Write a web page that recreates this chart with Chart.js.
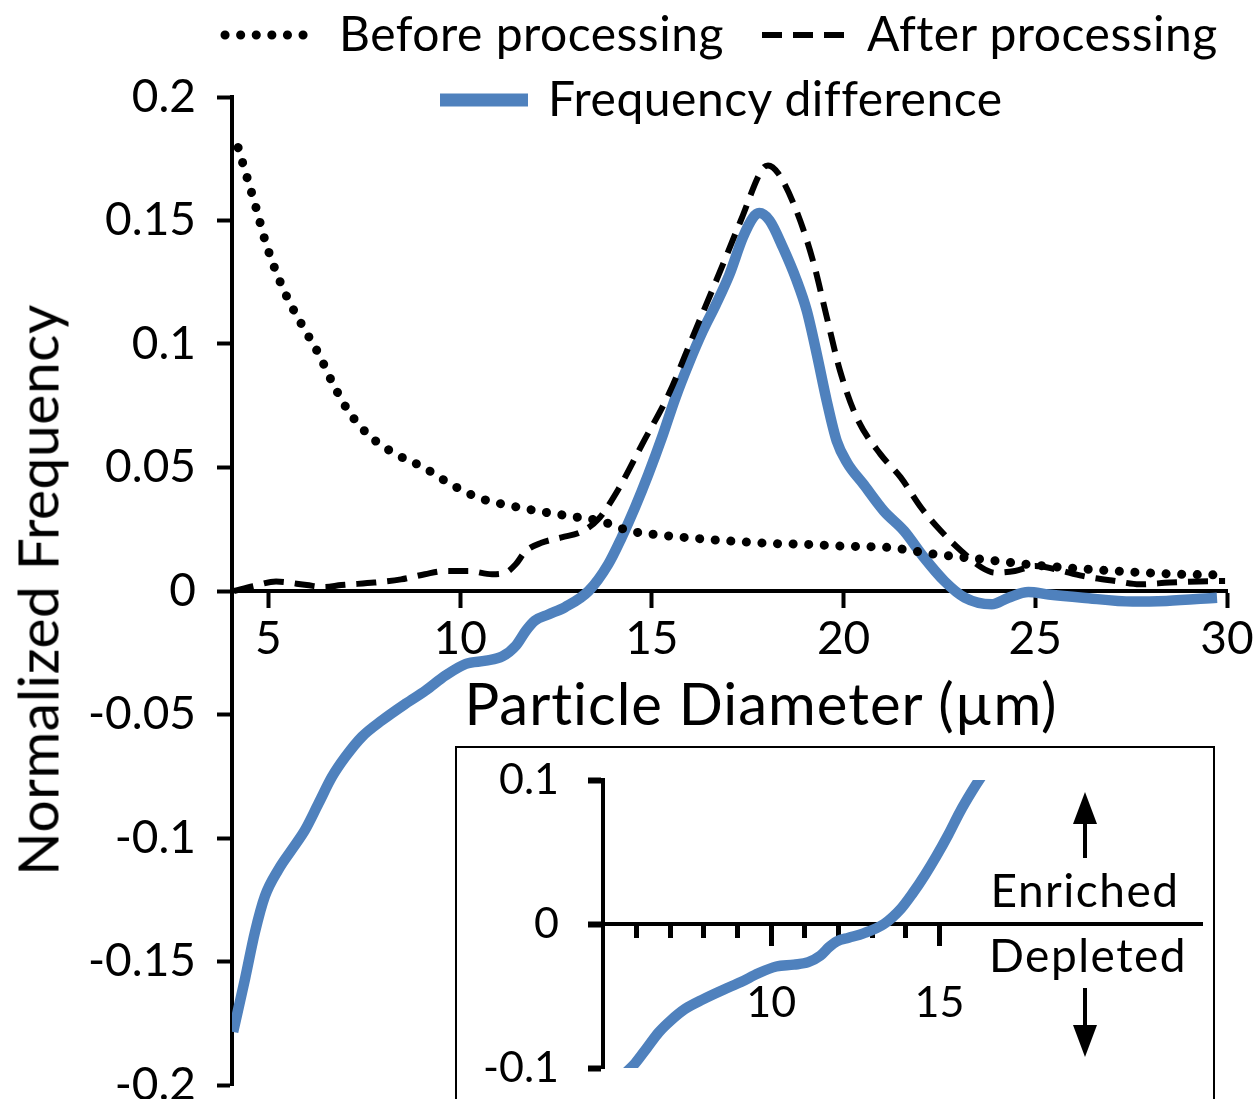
<!DOCTYPE html>
<html>
<head>
<meta charset="utf-8">
<title>Particle size distribution</title>
<script src="https://cdn.jsdelivr.net/npm/chart.js@4.4.1/dist/chart.umd.min.js"></script>
<style>
  html, body { margin: 0; padding: 0; background: #fff; }
  body { position: relative; width: 1257px; height: 1099px; overflow: hidden; font-family: Lato, "Liberation Sans", sans-serif; color: #000; }
  #main { position: absolute; left: 0; top: 0; }
  .txt { position: absolute; white-space: nowrap; line-height: 1; }
  #legend .txt { font-size: 48px; letter-spacing: 0.5px; }
  #ytitle { left: 37px; top: 590px; font-size: 57px; letter-spacing: 0.5px; transform: translate(-50%, -50%) rotate(-90deg); }
  #xtitle { left: 761px; top: 674px; font-size: 58px; letter-spacing: 1px; transform: translateX(-50%); }
  #inset { position: absolute; left: 455px; top: 746px; width: 756px; height: 400px; border: 2px solid #000; background: #fff; }
  #inset canvas, #inset svg { position: absolute; left: 0; top: 0; }
  #inset .txt { font-size: 46px; letter-spacing: 1.5px; transform: translateX(-50%); }
</style>
</head>
<body>
<canvas id="main" width="1257" height="1099"></canvas>
<div id="legend"></div>
<div class="txt" id="ytitle">Normalized Frequency</div>
<div class="txt" id="xtitle">Particle Diameter (µm)</div>
<div id="inset">
  <canvas id="insetChart" width="756" height="352"></canvas>
  <svg width="756" height="352">
    <line x1="628" y1="110" x2="628" y2="70" stroke="#000" stroke-width="4"/>
    <polygon points="628,44 616,76 640,76" fill="#000"/>
    <line x1="628" y1="240" x2="628" y2="282" stroke="#000" stroke-width="4"/>
    <polygon points="628,309 616,277 640,277" fill="#000"/>
  </svg>
  <div class="txt" style="left:628px; top:119px;">Enriched</div>
  <div class="txt" style="left:631px; top:184px;">Depleted</div>
</div>
<script>
(() => {
  'use strict'

  // particle diameter (µm) / normalized frequency
  const beforeX = [4.21, 4.45, 4.68, 4.91, 5.18, 5.5, 5.9, 6.32, 6.68, 7.08, 7.61, 8.29, 9.05, 9.76, 10.51,
    11.32, 12.17, 13.0, 13.64, 14.43, 15.26, 16.54, 17.37, 18.2, 19.04, 19.91, 21.18, 22.33, 23.2, 24.1,
    24.97, 26.2, 27.4, 28.73, 29.96];
  const beforeY = [0.1795, 0.167, 0.155, 0.142, 0.130, 0.1185, 0.107, 0.0957, 0.084, 0.073, 0.0632, 0.0557,
    0.050, 0.0432, 0.0376, 0.0345, 0.032, 0.030, 0.0284, 0.0243, 0.0226, 0.0208, 0.0199, 0.0192, 0.0189,
    0.0182, 0.0176, 0.015, 0.0135, 0.012, 0.0105, 0.009, 0.0078, 0.0068, 0.0065];

  const afterX = [4.1, 4.6, 5.2, 6.0, 6.45, 6.9, 7.76, 8.46, 9.08, 9.6, 10.22, 10.83, 11.18, 11.45, 11.7,
    12.12, 12.65, 13.17, 13.6, 14.12, 14.75, 15.45, 16.06, 16.68, 17.32, 17.89, 18.03, 18.3, 18.77, 19.2,
    19.56, 19.91, 20.35, 20.96, 21.49, 22.02, 22.54, 23.07, 23.6, 23.95, 24.47, 25.0, 25.53, 26.23, 27.1,
    27.72, 28.5, 29.56, 29.95];
  const afterY = [0, 0.002, 0.0038, 0.0024, 0.0016, 0.0024, 0.0034, 0.0047, 0.0068, 0.0081, 0.0081, 0.0068,
    0.0074, 0.0108, 0.016, 0.0195, 0.0217, 0.024, 0.029, 0.041, 0.0595, 0.080, 0.1027, 0.1257, 0.150, 0.171,
    0.1723, 0.169, 0.154, 0.1338, 0.111, 0.089, 0.070, 0.0554, 0.046, 0.0338, 0.0243, 0.0162, 0.0095,
    0.0074, 0.0081, 0.0101, 0.0088, 0.0061, 0.004, 0.0027, 0.0034, 0.004, 0.004];

  const diffX = [4.08, 4.39, 4.65, 4.91, 5.26, 5.61, 5.96, 6.31, 6.66, 7.01, 7.44, 7.97, 8.58, 9.1, 9.62,
    10.15, 10.67, 11.1, 11.46, 11.72, 11.95, 12.3, 12.74, 13.35, 13.86, 14.21, 14.56, 14.91, 15.26, 15.61,
    15.96, 16.32, 16.67, 17.02, 17.37, 17.63, 17.8, 18.07, 18.42, 18.77, 19.04, 19.3, 19.56, 19.82, 20.09,
    20.53, 21.05, 21.58, 22.1, 22.63, 23.16, 23.86, 24.3, 24.82, 25.35, 26.23, 27.54, 28.42, 29.74];
  const diffY = [-0.1785, -0.157, -0.138, -0.1235, -0.1128, -0.1047, -0.0966, -0.0859, -0.0752, -0.0671,
    -0.059, -0.0523, -0.0456, -0.0403, -0.0342, -0.0295, -0.0282, -0.0265, -0.022, -0.016, -0.012, -0.0095,
    -0.0065, 0, 0.0108, 0.0216, 0.0338, 0.0473, 0.062, 0.078, 0.092, 0.105, 0.116, 0.128, 0.143, 0.151,
    0.153, 0.150, 0.139, 0.126, 0.1135, 0.096, 0.077, 0.0608, 0.052, 0.043, 0.0324, 0.0243, 0.0135, 0.004,
    -0.0027, -0.0054, -0.0027, -0.0004, -0.0014, -0.0027, -0.0043, -0.004, -0.0027];

  const seriesNames = ['Before processing', 'After processing', 'Frequency difference'];

  const xTicks = [5, 10, 15, 20, 25, 30];
  const yTicks = [-0.2, -0.15, -0.1, -0.05, 0, 0.05, 0.1, 0.15, 0.2];
  const yTickLabels = ['-0.2', '-0.15', '-0.1', '-0.05', '0', '0.05', '0.1', '0.15', '0.2'];

  // the inset only carries the difference curve up to where it leaves the top
  const insetLastX = 16.67;
  const insetMinorTicks = [6, 7, 8, 9, 11, 12, 13, 14];
  const insetMajorTicks = [10, 15];
  const insetYTicks = [-0.1, 0, 0.1];
  const insetYTickLabels = ['-0.1', '0', '0.1'];

  const BLUE = '#4F81BD';

  function points(xs, ys) {
    return xs.map((x, i) => ({ x: x, y: ys[i] }));
  }

  function fixedTicks(values) {
    return function(scale) {
      scale.ticks = values.map(v => ({ value: v }));
    };
  }

  // keep the label overhang from shrinking the plot area
  function noPadding(size) {
    return function(scale) {
      if (scale.isHorizontal()) {
        scale.height = 0;
      } else {
        scale.width = size;
      }
      scale.paddingTop = 0;
      scale.paddingBottom = 0;
      scale.paddingLeft = 0;
      scale.paddingRight = 0;
    };
  }

  const font = (size) => ({ family: 'Lato', size: size, lineHeight: 1.2 });

  const lineStyles = [
    { borderColor: '#000', borderWidth: 9, borderDash: [0.1, 15.5], borderCapStyle: 'round' },
    { borderColor: '#000', borderWidth: 6, borderDash: [20, 11], borderCapStyle: 'butt' },
    { borderColor: BLUE, borderWidth: 10.5, borderDash: [], borderCapStyle: 'butt' }
  ];

  const seriesData = [points(beforeX, beforeY), points(afterX, afterY), points(diffX, diffY)];

  const mainChart = new Chart(document.getElementById('main'), {
    type: 'line',
    data: {
      datasets: seriesData.map((d, i) => Object.assign({
        label: seriesNames[i],
        data: d,
        pointRadius: 0,
        fill: false,
        cubicInterpolationMode: 'monotone'
      }, lineStyles[i]))
    },
    options: {
      responsive: false,
      animation: false,
      devicePixelRatio: 1,
      layout: { padding: { left: 0, right: 30, top: 97, bottom: 14 } },
      plugins: { legend: { display: false }, tooltip: { enabled: false } },
      scales: {
        x: {
          type: 'linear',
          min: 4.05,
          max: 30,
          position: { y: 0 },
          afterFit: noPadding(0),
          afterBuildTicks: fixedTicks(xTicks),
          grid: { drawOnChartArea: false, drawTicks: true, tickLength: 15, tickWidth: 4, tickColor: '#000' },
          border: { display: true, color: '#000', width: 4 },
          ticks: { font: font(46), color: '#000', padding: 6, maxRotation: 0, autoSkip: false }
        },
        y: {
          type: 'linear',
          min: -0.2,
          max: 0.2,
          afterFit: noPadding(232),
          afterBuildTicks: fixedTicks(yTicks),
          grid: { drawOnChartArea: false, drawTicks: true, tickLength: 15, tickWidth: 4, tickColor: '#000' },
          border: { display: true, color: '#000', width: 4 },
          ticks: {
            font: font(46),
            color: '#000',
            padding: 21,
            autoSkip: false,
            callback: function(value, index) {
              return yTickLabels[index];
            }
          }
        }
      }
    }
  });

  // legend drawn in html from the chart's own datasets
  const legendSpots = [
    { line: 225, text: 339, y: 35, top: 9 },
    { line: 762, text: 867, y: 35, top: 9 },
    { line: 440, text: 548, y: 100, top: 74 }
  ];
  const legend = document.getElementById('legend');
  mainChart.data.datasets.forEach((ds, i) => {
    const spot = legendSpots[i];
    const svgNS = 'http://www.w3.org/2000/svg';
    const svg = document.createElementNS(svgNS, 'svg');
    svg.setAttribute('width', 100);
    svg.setAttribute('height', 20);
    svg.style.position = 'absolute';
    svg.style.left = (spot.line - 6) + 'px';
    svg.style.top = (spot.y - 10) + 'px';
    const ln = document.createElementNS(svgNS, 'line');
    ln.setAttribute('x1', 6);
    ln.setAttribute('x2', 94);
    ln.setAttribute('y1', 10);
    ln.setAttribute('y2', 10);
    ln.setAttribute('stroke', ds.borderColor);
    ln.setAttribute('stroke-width', i === 2 ? 13 : ds.borderWidth);
    ln.setAttribute('stroke-linecap', ds.borderCapStyle);
    if (ds.borderDash.length) {
      ln.setAttribute('stroke-dasharray', ds.borderDash.join(' '));
    }
    svg.appendChild(ln);
    legend.appendChild(svg);

    const label = document.createElement('div');
    label.className = 'txt';
    label.style.left = spot.text + 'px';
    label.style.top = spot.top + 'px';
    label.textContent = ds.label;
    legend.appendChild(label);
  });

  // inset: zoom on the frequency difference around zero
  const insetData = points(diffX, diffY).filter(p => p.x <= insetLastX);

  new Chart(document.getElementById('insetChart'), {
    type: 'line',
    data: {
      datasets: [Object.assign({
        label: seriesNames[2],
        data: insetData,
        pointRadius: 0,
        fill: false,
        clip: 0,
        cubicInterpolationMode: 'monotone'
      }, lineStyles[2])]
    },
    options: {
      responsive: false,
      animation: false,
      devicePixelRatio: 1,
      layout: { padding: { left: 0, right: 11, top: 32, bottom: 32 } },
      plugins: { legend: { display: false }, tooltip: { enabled: false } },
      scales: {
        x: {
          type: 'linear',
          min: 5,
          max: 22.8,
          position: { y: 0 },
          afterFit: noPadding(0),
          afterBuildTicks: fixedTicks(insetMinorTicks),
          grid: { drawOnChartArea: false, drawTicks: true, tickLength: 12, tickWidth: 5, tickColor: '#000' },
          border: { display: true, color: '#000', width: 4 },
          ticks: { display: false }
        },
        x2: {
          type: 'linear',
          axis: 'x',
          min: 5,
          max: 22.8,
          position: { y: 0 },
          afterFit: noPadding(0),
          afterBuildTicks: fixedTicks(insetMajorTicks),
          grid: { drawOnChartArea: false, drawTicks: true, tickLength: 22, tickWidth: 5, tickColor: '#000' },
          border: { display: false },
          ticks: { font: font(43), color: '#000', padding: 31, maxRotation: 0, autoSkip: false }
        },
        y: {
          type: 'linear',
          min: -0.1,
          max: 0.1,
          afterFit: noPadding(146),
          afterBuildTicks: fixedTicks(insetYTicks),
          grid: { drawOnChartArea: false, drawTicks: true, tickLength: 15, tickWidth: 6, tickColor: '#000' },
          border: { display: true, color: '#000', width: 4 },
          ticks: {
            font: font(43),
            color: '#000',
            padding: 29,
            autoSkip: false,
            callback: function(value, index) {
              return insetYTickLabels[index];
            }
          }
        }
      }
    }
  });
})()
</script>
</body>
</html>
